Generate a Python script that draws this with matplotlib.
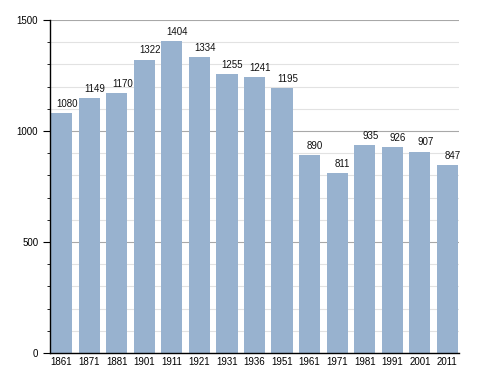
import matplotlib.pyplot as plt
from matplotlib.ticker import MultipleLocator

plt.rcParams["font.family"] = ["Liberation Sans", "DejaVu Sans"]

years = ["1861", "1871", "1881", "1901", "1911", "1921", "1931", "1936",
         "1951", "1961", "1971", "1981", "1991", "2001", "2011"]
population = [1080, 1149, 1170, 1322, 1404, 1334, 1255, 1241,
              1195, 890, 811, 935, 926, 907, 847]

fig = plt.figure(figsize=(4.88, 3.73), dpi=100)
ax = fig.add_axes([50 / 488, 20 / 373, 409 / 488, 333 / 373])

x = range(len(years))
ax.bar(x, population, width=0.77, color="#98b2cf", zorder=2)

for i, v in enumerate(population):
    ax.annotate(str(v), (i, v), xytext=(4, 3), textcoords="offset points",
                ha="center", va="bottom", fontsize=7, color="#111111")

ax.set_xlim(-0.42, len(years) - 1 + 0.42)
ax.set_ylim(0, 1500)
ax.set_xticks(list(x))
ax.set_xticklabels(years)
ax.yaxis.set_major_locator(MultipleLocator(500))
ax.yaxis.set_minor_locator(MultipleLocator(100))

ax.grid(axis="y", which="major", color="#a8a8a8", linewidth=0.8, zorder=0)
ax.grid(axis="y", which="minor", color="#e2e2e2", linewidth=0.8, zorder=0)

for s in ["top", "right"]:
    ax.spines[s].set_visible(False)
ax.spines["left"].set_linewidth(1.0)
ax.spines["bottom"].set_linewidth(1.0)

ax.tick_params(axis="x", length=0, labelsize=7, pad=3)
ax.tick_params(axis="y", which="major", length=5, labelsize=7, pad=3.5)
ax.tick_params(axis="y", which="minor", length=2)

fig.savefig("out.png", dpi=100)
